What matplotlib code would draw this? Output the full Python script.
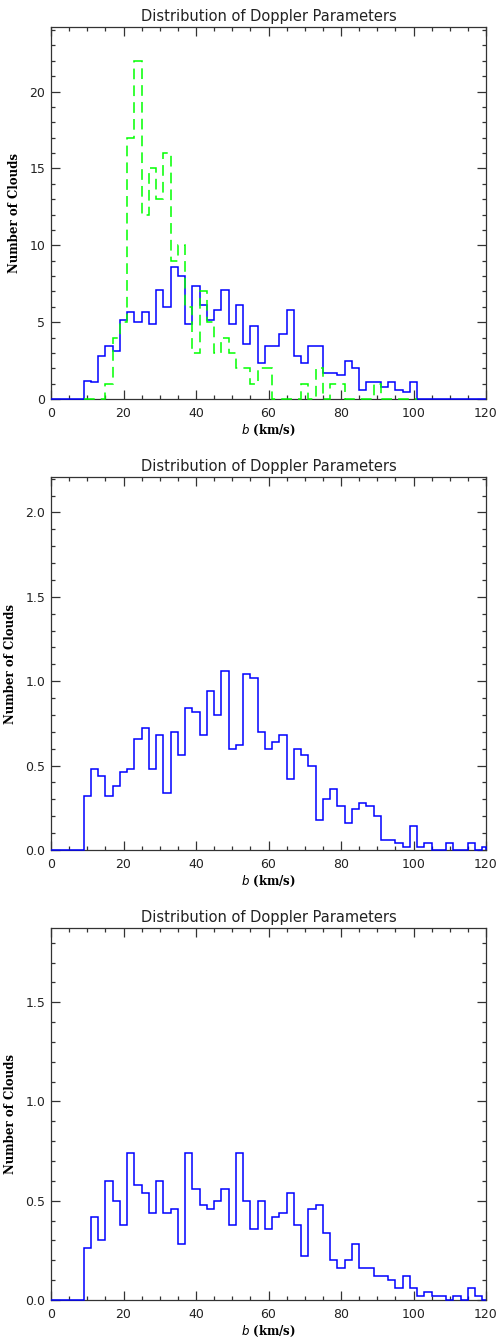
import matplotlib
matplotlib.use('Agg')
import matplotlib.pyplot as plt
import numpy as np
from matplotlib.ticker import MultipleLocator

# bin centres (km/s), 2 km/s wide
centros = np.arange(10, 122, 2)

# panel 1: blue = mean histogram, green dashed = counts
azul_1 = [1.2, 1.08, 2.79, 3.42, 3.12, 5.15, 5.63, 5.0, 5.63, 4.87,
          7.06, 5.97, 8.61, 8.01, 4.87, 7.38, 6.13, 5.15, 5.8, 7.06,
          4.87, 6.13, 3.61, 4.72, 2.34, 3.42, 3.42, 4.22, 5.8, 2.79,
          2.34, 3.42, 3.42, 1.69, 1.69, 1.54, 2.49, 2.01, 0.61, 1.08,
          1.08, 0.76, 1.08, 0.61, 0.45, 1.08,
          0, 0, 0, 0, 0, 0, 0, 0, 0, 0]
verde_1 = [0, 0, 0, 1, 4, 5, 17, 22, 12, 15,
           13, 16, 9, 10, 6, 3, 7, 5, 3, 4,
           3, 2, 2, 1, 2, 2, 0, 0, 0, 0,
           1, 0, 2, 0, 1, 1, 0, 0, 0, 0,
           1, 0, 0, 0, 0, 0]

azul_2 = [0.32, 0.48, 0.44, 0.32, 0.38, 0.46, 0.48, 0.66, 0.72, 0.48,
          0.68, 0.34, 0.70, 0.56, 0.84, 0.82, 0.68, 0.94, 0.80, 1.06,
          0.60, 0.62, 1.04, 1.02, 0.70, 0.60, 0.64, 0.68, 0.42, 0.60,
          0.56, 0.50, 0.18, 0.30, 0.36, 0.26, 0.16, 0.24, 0.28, 0.26,
          0.20, 0.06, 0.06, 0.04, 0.02, 0.14, 0.02, 0.04, 0, 0,
          0.04, 0, 0, 0.04, 0, 0.02]

azul_3 = [0.26, 0.42, 0.30, 0.60, 0.50, 0.38, 0.74, 0.58, 0.54, 0.44,
          0.60, 0.44, 0.46, 0.28, 0.74, 0.56, 0.48, 0.46, 0.50, 0.56,
          0.38, 0.74, 0.50, 0.36, 0.50, 0.36, 0.42, 0.44, 0.54, 0.38,
          0.22, 0.46, 0.48, 0.34, 0.20, 0.16, 0.20, 0.28, 0.16, 0.16,
          0.12, 0.12, 0.10, 0.06, 0.12, 0.06, 0.02, 0.04, 0.02, 0.02,
          0, 0.02, 0, 0.06, 0.02, 0]

titulo = 'Distribution of Doppler Parameters'
W, H = 499, 1342


def escalon(ax, vals, color, desde_cero=True, **kw):
    n = len(vals)
    e = np.concatenate((centros[:n] - 1, [centros[n - 1] + 1]))
    v = np.asarray(vals, dtype=float)
    if desde_cero:
        e = np.concatenate(([0], e))
        v = np.concatenate(([0], v))
    e = np.clip(e, 0, 120)
    ax.stairs(v, e, color=color, lw=1.1, zorder=3, clip_on=False, **kw)


def ejes(fig, top, bottom, ymax, major, minor, fmt):
    ax = fig.add_axes([51 / W, 1 - bottom / H, (486 - 51) / W, (bottom - top) / H])
    ax.set_xlim(0, 120)
    ax.set_ylim(0, ymax)
    ax.xaxis.set_major_locator(MultipleLocator(20))
    ax.xaxis.set_minor_locator(MultipleLocator(5))
    ax.yaxis.set_major_locator(MultipleLocator(major))
    ax.yaxis.set_minor_locator(MultipleLocator(minor))
    ax.yaxis.set_major_formatter(plt.FormatStrFormatter(fmt))
    ax.tick_params(which='both', direction='in', top=True, right=True,
                   color='#333333', width=0.9, labelsize=9, labelcolor='#222222')
    ax.tick_params(which='major', length=6.2)
    ax.tick_params(which='minor', length=3.2)
    ax.tick_params(axis='x', pad=6)
    ax.tick_params(axis='y', pad=4)
    for s in ax.spines.values():
        s.set_linewidth(0.9)
        s.set_color('#333333')
    ax.set_title(titulo, fontsize=10.5, pad=4, color='#222222')
    ax.set_xlabel(r'$b$ (km/s)', family='DejaVu Serif', fontweight='bold',
                  fontsize=8.5, labelpad=2)
    ax.set_ylabel('Number of Clouds', family='DejaVu Serif', fontweight='bold',
                  fontsize=8.5, labelpad=6)
    return ax


fig = plt.figure(figsize=(W / 100, H / 100), dpi=100)

ax1 = ejes(fig, 27, 399, 24.2, 5, 1, '%d')
escalon(ax1, azul_1, '#0000ff')
escalon(ax1, verde_1, '#00ff00', desde_cero=False, linestyle=(0, (7, 4)))

ax2 = ejes(fig, 477, 850, 2.21, 0.5, 0.1, '%.1f')
escalon(ax2, azul_2, '#0000ff')

ax3 = ejes(fig, 928, 1300, 1.874, 0.5, 0.1, '%.1f')
escalon(ax3, azul_3, '#0000ff')

fig.savefig('out.png', dpi=100)
